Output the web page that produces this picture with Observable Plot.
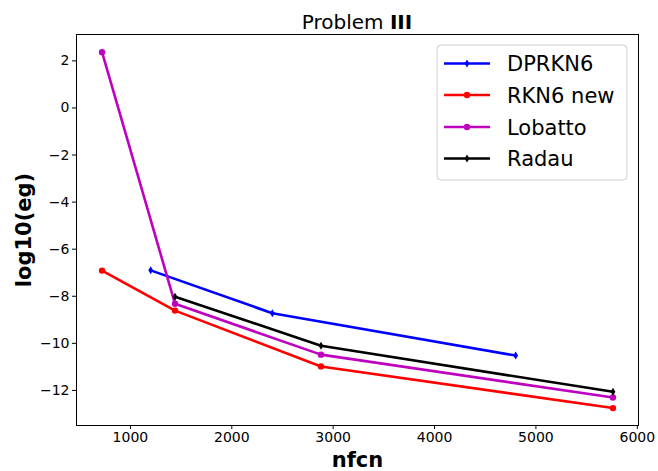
<!DOCTYPE html>
<html><head><meta charset="utf-8">
<script src="https://cdn.jsdelivr.net/npm/d3@7"></script>
<script src="https://cdn.jsdelivr.net/npm/@observablehq/plot@0.6"></script>
<style>body{margin:0;background:#fff;font-family:"DejaVu Sans";}</style>
</head><body><div id="chart"></div>
<script>
const seriesNames = ["DPRKN6", "RKN6 new", "Lobatto", "Radau"];
const seriesColors = ["#0000ff", "#ff0000", "#bf00bf", "#000000"];
const seriesMarkers = ["thin", "dot", "dot", "thin"];
const dprkn6X = [1200, 2400, 4800];
const dprkn6Y = [-6.9, -8.72, -10.52];
const rkn6X = [720, 1440, 2880, 5760];
const rkn6Y = [-6.91, -8.61, -10.98, -12.75];
const lobattoX = [720, 1440, 2880, 5760];
const lobattoY = [2.37, -8.32, -10.48, -12.3];
const radauX = [1440, 2880, 5760];
const radauY = [-8.02, -10.1, -12.06];
const xTicks = [1000, 2000, 3000, 4000, 5000, 6000];
const yTicks = [2, 0, -2, -4, -6, -8, -10, -12];

const seriesX = [dprkn6X, rkn6X, lobattoX, radauX];
const seriesY = [dprkn6Y, rkn6Y, lobattoY, radauY];

const thinDiamond = {
  draw(ctx) {
    ctx.moveTo(0, -4);
    ctx.lineTo(2.4, 0);
    ctx.lineTo(0, 4);
    ctx.lineTo(-2.4, 0);
    ctx.closePath();
  }
};

const fmt = d => d < 0 ? "\u2212" + (-d) : String(d);

const marks = [
  Plot.axisX({ticks: xTicks, tickSize: 4, tickPadding: 3, fontSize: 14, tickFormat: fmt, label: null, stroke: "black", fill: "black"}),
  Plot.axisY({ticks: yTicks, tickSize: 4, tickPadding: 3, fontSize: 14, tickFormat: fmt, label: null, stroke: "black", fill: "black"}),
  Plot.text(["nfcn"], {frameAnchor: "bottom", dy: 41, fontSize: 21, fontWeight: "bold", fill: "black"}),
  Plot.text(["log10(eg)"], {frameAnchor: "left", dx: -52, rotate: -90, textAnchor: "middle", lineAnchor: "middle", fontSize: 21, fontWeight: "bold", fill: "black"})
];

seriesNames.forEach((name, i) => {
  const rows = seriesX[i].map((x, j) => ({x, y: seriesY[i][j]}));
  marks.push(Plot.line(rows, {x: "x", y: "y", stroke: seriesColors[i], strokeWidth: 2.6}));
  marks.push(Plot.dot(rows, {x: "x", y: "y", r: 3.2, fill: seriesColors[i], stroke: "none",
    symbol: seriesMarkers[i] === "thin" ? thinDiamond : "circle"}));
});
marks.push(Plot.frame({stroke: "black", strokeWidth: 1}));

const plot = Plot.plot({
  width: 658, height: 471,
  marginLeft: 76, marginRight: 20, marginTop: 34, marginBottom: 46,
  style: {fontFamily: "DejaVu Sans", background: "white", color: "black"},
  x: {domain: [468, 6012]},
  y: {domain: [-13.49, 3.12]},
  marks
});

const svg = d3.select(plot);
// title
const t = svg.append("text").attr("x", 357).attr("y", 29).attr("text-anchor", "middle")
  .attr("font-size", 20).attr("font-family", "DejaVu Sans").attr("fill", "black");
t.append("tspan").text("Problem ");
t.append("tspan").attr("font-weight", "bold").text("III");

// legend
const lg = svg.append("g").attr("font-family", "DejaVu Sans").attr("text-anchor", "start");
lg.append("rect").attr("x", 437).attr("y", 45).attr("width", 190).attr("height", 135)
  .attr("rx", 4).attr("fill", "white").attr("fill-opacity", 0.8).attr("stroke", "#d0d0d0");
const rowY = [63.5, 95, 127, 158.5];
seriesNames.forEach((name, i) => {
  const y = rowY[i];
  lg.append("line").attr("x1", 444).attr("x2", 490).attr("y1", y).attr("y2", y)
    .attr("stroke", seriesColors[i]).attr("stroke-width", 2.6);
  if (seriesMarkers[i] === "thin") {
    lg.append("path").attr("d", `M467,${y-4}L469.4,${y}L467,${y+4}L464.6,${y}Z`).attr("fill", seriesColors[i]);
  } else {
    lg.append("circle").attr("cx", 467).attr("cy", y).attr("r", 3.2).attr("fill", seriesColors[i]);
  }
  lg.append("text").attr("x", 507).attr("y", y).attr("dy", "0.36em").attr("font-size", 21)
    .attr("text-anchor", "start").attr("fill", "black").text(name);
});

document.getElementById("chart").appendChild(plot);
</script></body></html>
